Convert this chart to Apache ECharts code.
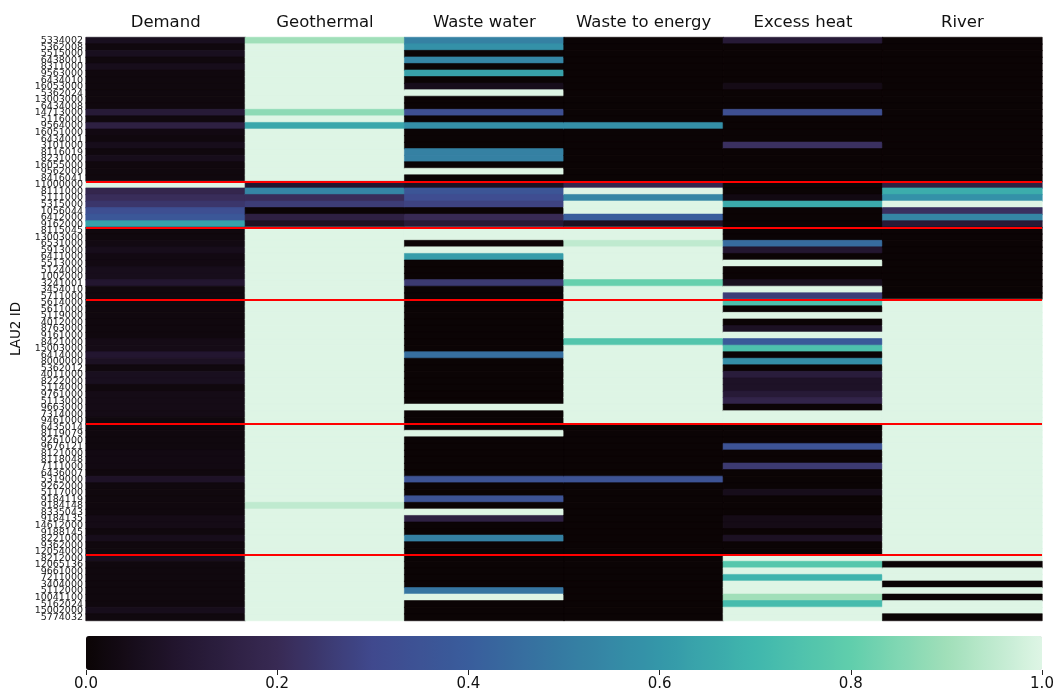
<!DOCTYPE html>
<html>
<head>
<meta charset="utf-8">
<script src="https://cdn.jsdelivr.net/npm/echarts@6/dist/echarts.min.js"></script>
<style>
  html, body { margin: 0; padding: 0; background: #fff; }
  #chart { width: 1058px; height: 695px; }
</style>
</head>
<body>
<div id="chart"></div>
<script>
  let columns = ['Demand', 'Geothermal', 'Waste water', 'Waste to energy', 'Excess heat', 'River']
  let rowIds = [
    '5334002', '5362008', '5515000', '6438001', '8311000', '9563000', '6434010', '16053000', '5362024', '13003000', '6434008',
    '14713000', '5116000', '9564000', '16051000', '6434001', '3101000', '8116019', '8231000', '16055000', '9562000', '8416041',
    '11000000', '8111000', '5111000', '5315000', '1056044', '6412000', '9162000',
    '8115045', '13003000', '6531000', '5913000', '6411000', '5513000', '5124000', '1002000', '3241001', '3454010', '5711000',
    '5614000', '5611000', '5119000', '4012000', '8763000', '9161000', '8421000', '15003000', '6414000', '8000000',
    '5362012', '4011000', '8222000', '5114000', '9761000', '5113000', '9663000', '7314000', '9461000',
    '6435014', '8119079', '9261000', '9676121', '8121000', '8118048', '7111000', '6436007', '5319000', '9262000',
    '5117000', '9184119', '9184148', '8335043', '9184135', '14612000', '9188145', '8221000', '9362000', '12054000',
    '8212000', '12065136', '9661000', '7211000', '3404000', '5112000', '10041100', '5162024', '15002000', '5774032'
  ]
  // rows per cluster, red separators go between them
  let groupSizes = [22, 7, 11, 19, 20, 10]

  let demand = [
    0.06, 0.02, 0.06, 0.02, 0.05, 0.02, 0.02, 0.02, 0.02, 0.02, 0.02, 0.12, 0.02, 0.15, 0.03, 0.02, 0.05, 0.02, 0.05, 0.02, 0.02, 0.02,
    1.0, 0.18, 0.21, 0.24, 0.33, 0.37, 0.63,
    0.02, 0.02, 0.03, 0.05, 0.03, 0.03, 0.05, 0.05, 0.1, 0.02, 0.02,
    0.02, 0.02, 0.02, 0.02, 0.02, 0.02, 0.04, 0.04, 0.1, 0.07, 0.02, 0.06, 0.06, 0.02, 0.04, 0.04, 0.04, 0.04, 0.02,
    0.02, 0.02, 0.02, 0.02, 0.03, 0.03, 0.03, 0.02, 0.08, 0.02, 0.02, 0.02, 0.02, 0.02, 0.04, 0.04, 0.02, 0.05, 0.02, 0.02,
    0.06, 0.02, 0.02, 0.02, 0.02, 0.02, 0.02, 0.02, 0.05, 0.02
  ]
  let geothermal = [
    0.9, 1, 1, 1, 1, 1, 1, 1, 1, 1, 1, 0.87, 1, 0.65, 1, 1, 1, 1, 1, 1, 1, 1,
    0.1, 0.54, 0.21, 0.26, 0, 0.15, 0.07,
    1, 1, 1, 1, 1, 1, 1, 1, 1, 1, 1,
    1, 1, 1, 1, 1, 1, 1, 1, 1, 1, 1, 1, 1, 1, 1, 1, 1, 1, 1,
    1, 1, 1, 1, 1, 1, 1, 1, 1, 1, 1, 1, 0.95, 1, 1, 1, 1, 1, 1, 1,
    1, 1, 1, 1, 1, 1, 1, 1, 1, 1
  ]
  let wasteWater = [
    0.52, 0.58, 0, 0.54, 0, 0.63, 0, 0.05, 1, 0, 0, 0.33, 0, 0.57, 0, 0, 0, 0.52, 0.52, 0, 1, 0,
    0.07, 0.36, 0.32, 0.28, 0, 0.2, 0.12,
    1, 1, 0, 1, 0.62, 0, 0, 0, 0.25, 0, 0,
    0, 0, 0, 0, 0, 0, 0, 0, 0.46, 0, 0, 0, 0, 0, 0, 0, 1, 0, 0,
    0, 1, 0, 0, 0, 0, 0, 0, 0.35, 0, 0, 0.35, 0, 1, 0.15, 0, 0, 0.52, 0, 0,
    0, 0, 0, 0, 0, 0.48, 1, 0, 0, 0
  ]
  let wasteToEnergy = [
    0, 0, 0, 0, 0, 0, 0, 0, 0, 0, 0, 0, 0, 0.57, 0, 0, 0, 0, 0, 0, 0, 0,
    0.18, 1, 0.54, 1, 1, 0.4, 0.07,
    1, 1, 0.95, 1, 1, 1, 1, 1, 0.81, 1, 1,
    1, 1, 1, 1, 1, 1, 0.76, 1, 1, 1, 1, 1, 1, 1, 1, 1, 1, 1, 1,
    0, 0, 0, 0, 0, 0, 0, 0, 0.35, 0, 0, 0, 0, 0, 0, 0, 0, 0, 0, 0,
    0, 0, 0, 0, 0, 0, 0, 0, 0, 0
  ]
  let excessHeat = [
    0.12, 0, 0, 0, 0, 0, 0, 0.04, 0, 0, 0, 0.33, 0, 0, 0, 0, 0.22, 0, 0, 0, 0, 0,
    0, 0, 0.03, 0.66, 0, 0, 0,
    0, 0, 0.45, 0.1, 0, 1, 0, 0, 0.06, 1, 0.26,
    0.74, 0, 1, 0, 0.07, 1, 0.38, 0.74, 0, 0.57, 0, 0.13, 0.08, 0.08, 0.12, 0.17, 0, 1, 1,
    0, 0, 0, 0.35, 0, 0, 0.25, 0, 0, 0, 0.05, 0, 0, 0, 0.04, 0.04, 0, 0.07, 0, 0,
    1, 0.77, 1, 0.69, 1, 1, 0.9, 0.72, 1, 1
  ]
  let river = [
    0, 0, 0, 0, 0, 0, 0, 0, 0, 0, 0, 0, 0, 0, 0, 0, 0, 0, 0, 0, 0, 0,
    0.15, 0.67, 0.58, 1, 0.22, 0.54, 0.12,
    0, 0, 0, 0, 0, 0, 0, 0, 0, 0, 0,
    1, 1, 1, 1, 1, 1, 1, 1, 1, 1, 1, 1, 1, 1, 1, 1, 1, 1, 1,
    1, 1, 1, 1, 1, 1, 1, 1, 1, 1, 1, 1, 1, 1, 1, 1, 1, 1, 1, 1,
    1, 0, 1, 1, 0, 1, 0, 1, 1, 0
  ]
  let colorbarTicks = [0, 0.2, 0.4, 0.6, 0.8, 1.0]

  // seaborn "mako"
  let mako = ['#0B0405', '#231630', '#382A54', '#40498E', '#395D9C', '#357BA2',
    '#3497A9', '#40B7AD', '#60CEAC', '#A0DFB9', '#DEF5E5']

  let myChart = echarts.init(document.getElementById('chart'))
  let font = 'DejaVu Sans'

  let cells = []
  let cols = [demand, geothermal, wasteWater, wasteToEnergy, excessHeat, river]
  cols.forEach((vals, c) => {
    vals.forEach((v, r) => {
      // thin border in the cell's own colour hides the seams between rows
      cells.push({
        value: [c, r, v],
        itemStyle: {borderWidth: 0.6, borderColor: echarts.color.lerp(v, mako)}
      })
    })
  })

  let boundaries = []
  let acc = 0
  groupSizes.slice(0, -1).forEach(n => {
    acc += n
    boundaries.push(acc)
  })

  let option = {
    animation: false,
    textStyle: {fontFamily: font},
    grid: [
      {left: 86, right: 16, top: 37.5, height: 583},
      {left: 86, right: 16, top: 636, height: 34}
    ],
    xAxis: [
      {
        type: 'category',
        data: columns,
        position: 'top',
        gridIndex: 0,
        axisLine: {show: false},
        axisTick: {alignWithLabel: true, length: 6, lineStyle: {color: '#222'}},
        axisLabel: {interval: 0, fontSize: 16.5, color: '#111', margin: 6, fontFamily: font},
        splitLine: {show: false}
      },
      {type: 'value', gridIndex: 0, min: 0, max: 6, show: false},
      {
        type: 'value',
        gridIndex: 1,
        min: 0,
        max: 1,
        interval: 0.2,
        position: 'bottom',
        axisLine: {show: false},
        axisTick: {show: true, length: 5, lineStyle: {color: '#222'}},
        axisLabel: {fontSize: 15, color: '#111', margin: 7, fontFamily: font, formatter: v => v.toFixed(1)},
        splitLine: {show: false}
      }
    ],
    yAxis: [
      {
        type: 'category',
        data: rowIds,
        inverse: true,
        gridIndex: 0,
        name: 'LAU2 ID',
        nameLocation: 'middle',
        nameGap: 62,
        nameTextStyle: {fontSize: 13.5, color: '#111', fontFamily: font},
        axisLine: {show: false},
        axisTick: {alignWithLabel: true, length: 3.5, lineStyle: {color: '#222'}},
        axisLabel: {interval: 0, fontSize: 9.5, color: '#222', margin: 3, fontFamily: font},
        splitLine: {show: false}
      },
      {type: 'value', gridIndex: 0, min: 0, max: rowIds.length, inverse: true, show: false},
      {type: 'value', gridIndex: 1, min: 0, max: 1, show: false}
    ],
    visualMap: {
      type: 'continuous',
      seriesIndex: 0,
      min: 0,
      max: 1,
      orient: 'horizontal',
      left: 86,
      top: 636,
      itemHeight: 956,
      itemWidth: 34,
      padding: 0,
      calculable: false,
      hoverLink: false,
      text: null,
      inRange: {color: mako}
    },
    series: [
      {
        type: 'heatmap',
        xAxisIndex: 0,
        yAxisIndex: 0,
        data: cells,
        silent: true,
        emphasis: {disabled: true}
      },
      {
        type: 'lines',
        coordinateSystem: 'cartesian2d',
        xAxisIndex: 1,
        yAxisIndex: 1,
        silent: true,
        z: 5,
        lineStyle: {color: '#ff0000', width: 2, opacity: 1},
        data: boundaries.map(b => ({coords: [[0, b], [6, b]]}))
      },
      {
        // empty series so the colorbar axis gets drawn
        type: 'scatter',
        xAxisIndex: 2,
        yAxisIndex: 2,
        data: colorbarTicks.map(t => [t, null]),
        symbolSize: 0,
        silent: true
      }
    ]
  }
  myChart.setOption(option)
</script>
</body>
</html>
